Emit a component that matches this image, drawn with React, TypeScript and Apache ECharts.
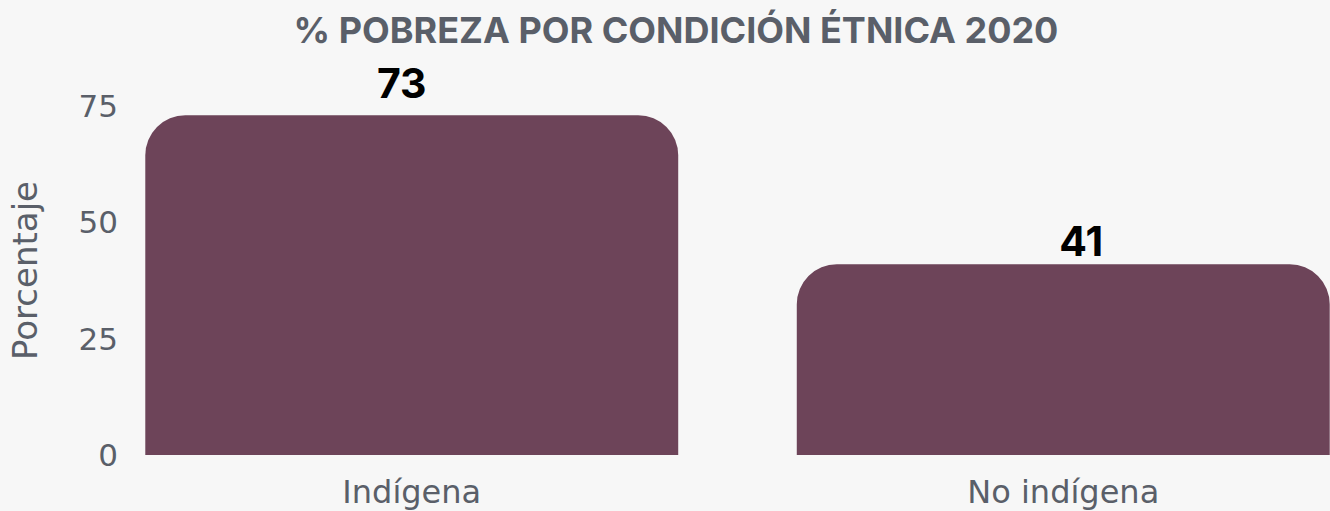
import React, { useEffect, useRef } from "react";
import * as echarts from "echarts";

const categories = ["Indígena", "No indígena"];
const values = [73, 41];
const yTicks = [0, 25, 50, 75];
// small nudges of the value labels, as in the reference
const labelOffsets: [number, number][] = [[-10, -9], [18, 0]];

const BOLD_FONT = "Inter, 'Open Sans', sans-serif";
const FONT = "'DejaVu Sans', Inter, sans-serif";
const GRAY = "#5a5f69";

export default function App() {
  const ref = useRef<HTMLDivElement>(null);
  useEffect(() => {
    document.body.style.margin = "0";
    document.body.style.background = "#f7f7f7";
    document.body.style.overflow = "hidden";
    const chart = echarts.init(ref.current!, null, { renderer: "svg" });
    chart.setOption({
      animation: false,
      backgroundColor: "#f7f7f7",
      title: {
        text: "% POBREZA POR CONDICIÓN ÉTNICA 2020",
        left: 671,
        top: 7,
        textAlign: "center",
        textStyle: { fontFamily: BOLD_FONT, fontWeight: "bold", fontSize: 36, color: GRAY },
      },
      grid: { left: 82, top: 106, right: 11, bottom: 56 },
      xAxis: {
        type: "category",
        data: categories,
        axisLine: { show: false },
        axisTick: { show: false },
        axisLabel: { fontFamily: FONT, fontSize: 32, color: GRAY, margin: 21 },
      },
      yAxis: {
        type: "value",
        min: yTicks[0],
        max: yTicks[yTicks.length - 1],
        interval: 25,
        splitLine: { show: false },
        axisLine: { show: false },
        axisTick: { show: false },
        axisLabel: { fontFamily: FONT, fontSize: 31, color: GRAY, margin: -32 },
        name: "Porcentaje",
        nameLocation: "middle",
        nameRotate: 90,
        nameGap: 44,
        nameTextStyle: { fontFamily: FONT, fontSize: 34, color: GRAY, padding: [0, 0, 0, 20] },
      },
      series: [
        {
          type: "bar",
          data: values.map((v, i) => ({ value: v, label: { offset: labelOffsets[i] } })),
          barCategoryGap: "18.2%",
          itemStyle: { color: "#6d4459", borderRadius: [40, 40, 0, 0] },
          label: {
            show: true,
            position: "top",
            distance: 3,
            fontFamily: BOLD_FONT,
            fontWeight: "bold",
            fontSize: 41,
            color: "#000000",
          },
        },
      ],
    });
    return () => chart.dispose();
  }, []);
  return <div ref={ref} style={{ position: "fixed", left: 0, top: 0, width: 1400, height: 511 }} />;
}
